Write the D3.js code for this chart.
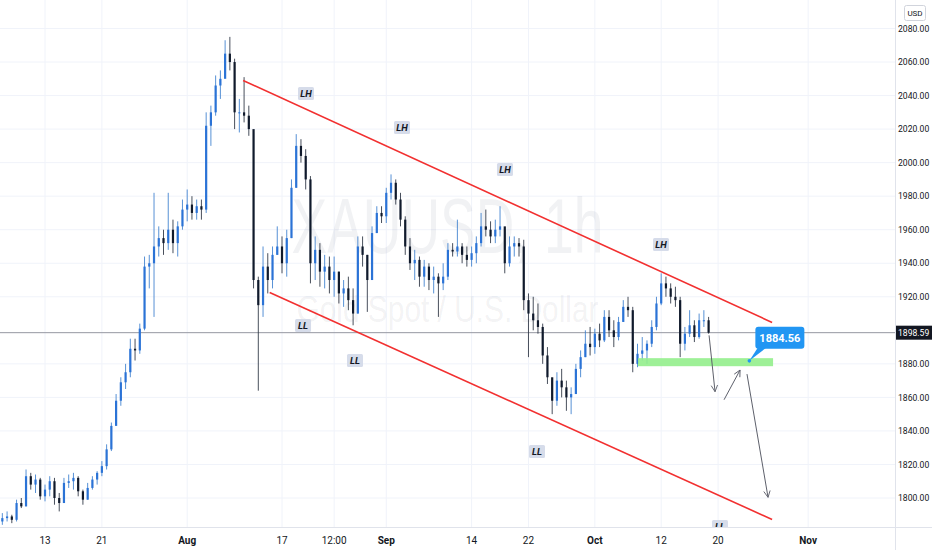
<!DOCTYPE html>
<html><head><meta charset="utf-8">
<script src="https://cdn.jsdelivr.net/npm/d3@7"></script>
<style>
html,body{margin:0;padding:0;background:#fff;}
svg{display:block;font-family:Roboto,"Liberation Sans",sans-serif;}
</style></head>
<body>
<svg id="chart" width="932" height="550"></svg>
<script>
// ---- data (half-day candles, XAUUSD 1h chart, Jul–Oct 2020) ----
const startDay = -4.5;           // trading-day index of first candle (0 = Jul 13)
const firstOpen = 1786;
const closes = [1788,1789,1787,1797,1795,1813,1808,1811,1801,1805,1810,1800,1797,1809,1810,1812,1804,1799,1806,1811,
1815,1819,1829,1843,1858,1869,1875,1889,1888,1901,1938,1940,1950,1955,1952,1960,1952,1962,1972,1975,
1970,1974,1972,2022,2030,2046,2050,2065,2060,2030,2030,2028,2020,1930,1915,1938,1930,1945,1950,1940,
1955,1985,2010,2004,1990,1940,1948,1935,1938,1930,1935,1922,1925,1918,1910,1950,1945,1930,1958,1970,
1968,1982,1988,1978,1966,1950,1940,1942,1932,1938,1930,1932,1928,1932,1948,1947,1950,1945,1942,1946,
1952,1962,1960,1956,1960,1962,1940,1950,1952,1950,1918,1910,1906,1902,1885,1872,1858,1870,1866,1860,
1862,1877,1884,1892,1890,1898,1894,1908,1900,1896,1905,1914,1912,1880,1886,1888,1892,1902,1916,1928,
1925,1920,1918,1892,1898,1903,1896,1906,1906,1898.59];
const highs = [1791,1792,1790,1799,1800,1817,1815,1814,1812,1808,1813,1812,1803,1812,1814,1815,1813,1805,1809,1813,
1816,1822,1832,1845,1862,1872,1880,1895,1895,1904,1944,1945,1982,1962,1960,1982,1966,1965,1978,1984,
1980,1978,1978,2030,2034,2052,2055,2073,2075,2062,2038,2051,2034,2018,1932,1950,1946,1950,1962,1956,
1960,1990,2017,2014,2008,1992,1956,1952,1945,1944,1944,1935,1930,1932,1925,1956,1956,1945,1962,1974,
1974,1985,1993,1990,1982,1968,1955,1948,1944,1942,1940,1938,1934,1940,1952,1952,1966,1952,1950,1950,
1956,1970,1972,1965,1966,1974,1960,1956,1956,1955,1954,1922,1920,1916,1904,1890,1870,1875,1877,1870,
1866,1880,1888,1900,1902,1901,1904,1912,1912,1906,1908,1918,1920,1914,1892,1896,1894,1906,1920,1934,
1932,1928,1926,1920,1902,1912,1906,1910,1912,1908];
const lows = [1784,1786,1785,1786,1794,1795,1805,1803,1799,1798,1801,1796,1792,1797,1806,1805,1801,1796,1799,1805,
1808,1813,1817,1828,1849,1855,1865,1872,1882,1886,1900,1925,1908,1944,1945,1948,1946,1944,1960,1965,
1966,1966,1966,1970,2010,2028,2038,2052,2055,2020,2018,2024,2016,1925,1864,1908,1922,1925,1945,1934,
1932,1955,1985,2000,1984,1928,1930,1926,1925,1922,1920,1916,1914,1912,1903,1910,1938,1911,1930,1958,
1964,1964,1978,1975,1962,1945,1936,1930,1926,1926,1924,1922,1908,1924,1930,1944,1944,1940,1938,1938,
1940,1950,1956,1952,1952,1956,1934,1938,1944,1944,1912,1884,1900,1898,1880,1868,1850,1855,1860,1852,
1850,1862,1872,1884,1885,1886,1890,1893,1896,1890,1894,1905,1908,1875,1878,1882,1880,1890,1900,1915,
1920,1916,1914,1884,1888,1896,1893,1895,1902,1898];
const lastPrice = 1898.59;

// axis ticks
const priceTicks = [2080,2060,2040,2020,2000,1980,1960,1940,1920,1880,1860,1840,1820,1800];
const timeTickDays = [0,6,15,25,30.5,36,45,51,58,65,71,80.5];
const timeTickLabels = ["13","21","Aug","17","12:00","Sep","14","22","Oct","12","20","Nov"];
const monthLabels = ["Aug","Sep","Oct","Nov"];

// channel (day, price)
const upperChannel = [[20.9,2049.0],[76.7,1904.7]];
const lowerChannel = [[23.7,1922.6],[76.7,1787.2]];
// support zone
const zoneDays = [62.55,76.8];
const zonePrices = [1878.6,1883.4];
// swing labels
const swingLabels = ["LH","LH","LH","LH","LL","LL","LL","LL"];
const swingDays = [27.53,37.66,48.52,64.98,27.22,32.70,51.90,71.20];
const swingPrices = [2041.2,2021.0,1995.9,1951.2,1902.9,1882.0,1827.8,1783.0];
// projection arrows [[day,price],[day,price]]
const arrows = [[[70.05,1897.0],[70.68,1863.4]],[[71.63,1858.6],[73.32,1876.3]],[[74.05,1873.9],[76.27,1800.4]]];
// callout
const calloutText = "1884.56";
const calloutAnchor = [74.3,1881.8];

// ---- drawing ----
const W = 932, H = 550, plotR = 895, plotB = 527;
const svg = d3.select("#chart");
const x = d3.scaleLinear().domain([0,80]).range([45,45+80*9.48]);
const y = d3.scaleLinear().domain([1800,2080]).range([498,28.5]);

svg.append("defs").append("clipPath").attr("id","plotclip")
  .append("rect").attr("x",0).attr("y",0).attr("width",plotR).attr("height",plotB);
svg.select("defs").append("marker").attr("id","ah").attr("viewBox","0 0 10 10")
  .attr("refX",9).attr("refY",5).attr("markerWidth",8).attr("markerHeight",8)
  .attr("orient","auto-start-reverse").attr("markerUnits","userSpaceOnUse")
  .append("path").attr("d","M1,1 L9,5 L1,9").attr("fill","none").attr("stroke","#5d606b").attr("stroke-width",1.1);

const plot = svg.append("g").attr("clip-path","url(#plotclip)");

// grid
plot.selectAll(".hg").data(priceTicks).join("line")
  .attr("x1",0).attr("x2",plotR).attr("y1",d=>y(d)).attr("y2",d=>y(d))
  .attr("stroke","#f0f3fa").attr("stroke-width",1);
plot.selectAll(".vg").data(timeTickDays).join("line")
  .attr("x1",d=>x(d)).attr("x2",d=>x(d)).attr("y1",0).attr("y2",plotB)
  .attr("stroke","#f0f3fa").attr("stroke-width",1);

// watermark
const cx = plotR/2;
plot.append("text").attr("x",cx).attr("y",253).attr("text-anchor","middle")
  .attr("font-family","'Liberation Sans',Arial,sans-serif").attr("font-size",78)
  .attr("textLength",312).attr("lengthAdjust","spacingAndGlyphs")
  .attr("fill","rgba(80,90,110,0.08)").text("XAUUSD, 1h");
plot.append("text").attr("x",cx).attr("y",322).attr("text-anchor","middle")
  .attr("font-family","'Liberation Sans',Arial,sans-serif").attr("font-size",37)
  .attr("textLength",302).attr("lengthAdjust","spacingAndGlyphs")
  .attr("fill","rgba(80,90,110,0.08)").text("Gold Spot / U.S. Dollar");

// last price line
plot.append("line").attr("x1",0).attr("x2",plotR).attr("y1",y(lastPrice)).attr("y2",y(lastPrice))
  .attr("stroke","#9598a1").attr("stroke-width",1);

// candles
const candles = closes.map((c,i)=>({d:startDay+i*0.5, o:i===0?firstOpen:closes[i-1], c, h:highs[i], l:lows[i]}));
const cg = plot.append("g");
cg.selectAll("line.w").data(candles).join("line")
  .attr("x1",d=>x(d.d)).attr("x2",d=>x(d.d)).attr("y1",d=>y(d.h)).attr("y2",d=>y(d.l))
  .attr("stroke",d=>d.c>=d.o?"#3b7fcf":"#2a3240").attr("stroke-width",1).attr("opacity",0.85);
cg.selectAll("rect.b").data(candles).join("rect")
  .attr("x",d=>x(d.d)-1.1).attr("width",2.2)
  .attr("y",d=>y(Math.max(d.o,d.c))).attr("height",d=>Math.max(1,Math.abs(y(d.o)-y(d.c))))
  .attr("fill",d=>d.c>=d.o?"#2b73d6":"#101a2c");

// channel lines
[upperChannel,lowerChannel].forEach(seg=>{
  plot.append("line").attr("x1",x(seg[0][0])).attr("y1",y(seg[0][1]))
    .attr("x2",x(seg[1][0])).attr("y2",y(seg[1][1]))
    .attr("stroke","#f23030").attr("stroke-width",1.6);
});

// zone
plot.append("rect").attr("x",x(zoneDays[0])).attr("width",x(zoneDays[1])-x(zoneDays[0]))
  .attr("y",y(zonePrices[1])).attr("height",y(zonePrices[0])-y(zonePrices[1]))
  .attr("fill","#94ee8c").attr("opacity",0.9);

// arrows
arrows.forEach(a=>{
  plot.append("line").attr("x1",x(a[0][0])).attr("y1",y(a[0][1]))
    .attr("x2",x(a[1][0])).attr("y2",y(a[1][1]))
    .attr("stroke","#5d606b").attr("stroke-width",1).attr("marker-end","url(#ah)");
});

// swing labels
swingLabels.forEach((t,i)=>{
  const px = x(swingDays[i]), py = y(swingPrices[i]);
  plot.append("rect").attr("x",px-8).attr("y",py-6.5).attr("width",16).attr("height",13)
    .attr("rx",1.5).attr("fill","#d6dcea");
  plot.append("text").attr("x",px).attr("y",py+3.5).attr("text-anchor","middle")
    .attr("font-size",9.5).attr("font-style","italic").attr("font-weight","bold")
    .attr("fill","#131722").text(t);
});

// callout
const ax = x(calloutAnchor[0]), ay = y(calloutAnchor[1]);
const bx = ax+6, by = ay-34, bw = 49, bh = 22;
plot.append("path").attr("d",`M${ax},${ay} L${bx+3},${by+bh-2} L${bx+12},${by+bh-2} Z`).attr("fill","#2196f3");
plot.append("rect").attr("x",bx).attr("y",by).attr("width",bw).attr("height",bh).attr("rx",3).attr("fill","#2196f3");
plot.append("circle").attr("cx",ax).attr("cy",ay).attr("r",1.8).attr("fill","#2196f3");
plot.append("text").attr("x",bx+bw/2).attr("y",by+15).attr("text-anchor","middle")
  .attr("font-size",11).attr("font-weight","bold").attr("fill","#fff").text(calloutText);

// axes borders
svg.append("line").attr("x1",plotR+0.5).attr("x2",plotR+0.5).attr("y1",0).attr("y2",H).attr("stroke","#e0e3eb");
svg.append("line").attr("x1",0).attr("x2",W).attr("y1",plotB+0.5).attr("y2",plotB+0.5).attr("stroke","#e0e3eb");

// price axis
const pa = svg.append("g");
pa.selectAll("text").data(priceTicks).join("text")
  .attr("x",plotR+3).attr("y",d=>y(d)+3.2).attr("font-size",8.6).attr("fill","#131722")
  .text(d=>d.toFixed(2));
pa.append("rect").attr("x",plotR+1).attr("y",y(lastPrice)-7).attr("width",W-plotR-1).attr("height",14).attr("fill","#131722");
pa.append("text").attr("x",plotR+3).attr("y",y(lastPrice)+3.2).attr("font-size",8.6).attr("fill","#fff").text(lastPrice.toFixed(2));
pa.append("rect").attr("x",904.5).attr("y",5.5).attr("width",21).attr("height",15).attr("rx",2)
  .attr("fill","#fff").attr("stroke","#d1d4dc");
pa.append("text").attr("x",915).attr("y",16).attr("text-anchor","middle").attr("font-size",8).attr("fill","#131722").text("USD");

// time axis
svg.append("g").selectAll("text").data(timeTickDays).join("text")
  .attr("x",d=>x(d)).attr("y",544).attr("text-anchor","middle").attr("font-size",10)
  .attr("font-weight",(d,i)=>monthLabels.includes(timeTickLabels[i])?"bold":"normal")
  .attr("fill","#131722").text((d,i)=>timeTickLabels[i]);
</script>
</body></html>
